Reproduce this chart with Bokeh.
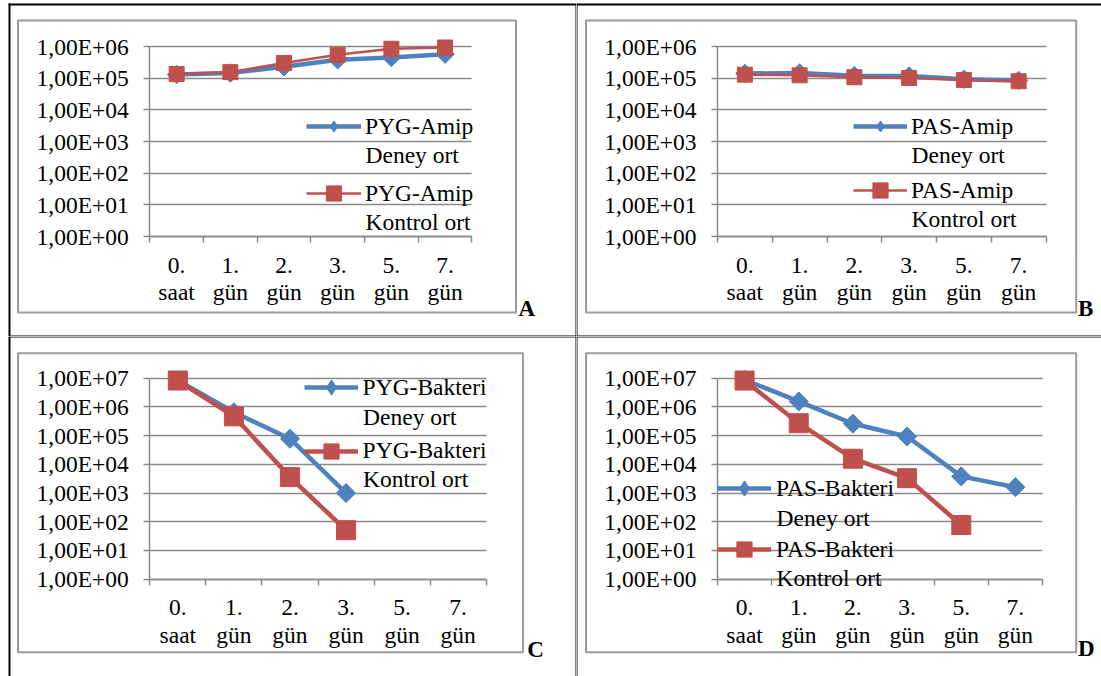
import math
from bokeh.plotting import figure
from bokeh.models import Range1d, FixedTicker, BoxAnnotation, Label, Legend, LegendItem, Grid
from bokeh.layouts import column, row
from bokeh.embed import file_html
from bokeh.resources import INLINE

# ---------------- data ----------------
categories = ["0. saat", "1. gün", "2. gün", "3. gün", "5. gün", "7. gün"]
x_tick_labels = ["0.\nsaat", "1.\ngün", "2.\ngün", "3.\ngün", "5.\ngün", "7.\ngün"]
y_tick_values_6 = [1.0, 1e1, 1e2, 1e3, 1e4, 1e5, 1e6]
y_tick_labels_6 = ["1,00E+00", "1,00E+01", "1,00E+02", "1,00E+03", "1,00E+04", "1,00E+05", "1,00E+06"]
y_tick_values_7 = [1.0, 1e1, 1e2, 1e3, 1e4, 1e5, 1e6, 1e7]
y_tick_labels_7 = ["1,00E+00", "1,00E+01", "1,00E+02", "1,00E+03", "1,00E+04", "1,00E+05", "1,00E+06", "1,00E+07"]

pyg_amip_deney = [1.30e5, 1.45e5, 2.3e5, 3.8e5, 4.5e5, 5.7e5]
pyg_amip_kontrol = [1.35e5, 1.55e5, 3.0e5, 5.5e5, 8.5e5, 9.3e5]
pas_amip_deney = [1.40e5, 1.45e5, 1.2e5, 1.17e5, 9.2e4, 8.5e4]
pas_amip_kontrol = [1.29e5, 1.23e5, 1.07e5, 1.01e5, 8.8e4, 8.0e4]
pyg_bakteri_deney = [8.3e6, 6.5e5, 7.8e4, 1.0e3, None, None]
pyg_bakteri_kontrol = [8.3e6, 4.7e5, 3.6e3, 51, None, None]
pas_bakteri_deney = [8.8e6, 1.55e6, 2.6e5, 9.3e4, 3.8e3, 1.6e3]
pas_bakteri_kontrol = [8.3e6, 2.7e5, 1.57e4, 3.3e3, 77, None]

legend_names = {
    "A": ("PYG-Amip", "PYG-Amip"),
    "B": ("PAS-Amip", "PAS-Amip"),
    "C": ("PYG-Bakteri", "PYG-Bakteri"),
    "D": ("PAS-Bakteri", "PAS-Bakteri"),
}
second_lines = ("Deney ort", "Kontrol ort")

# ---------------- style ----------------
FONT = "Liberation Serif"
FS = "23.5px"
BLUE = "#4F81BD"
RED = "#C0504D"
GRID = "#8a8a8a"
FRAME = "#9c9c9c"

# geometry in each cell's own pixels (x from left, y from top)
panels = [
    dict(key="A", W=576, H=336, fl=149.3, fr=471.4, ft=46, fb=236, yv=y_tick_values_6, yl=y_tick_labels_6,
         deney=pyg_amip_deney, kontrol=pyg_amip_kontrol, lw_b=4.5, lw_r=2.5, ms_b=13, ms_r=15,
         frame=(17.5, 20, 515.5, 312), letter=(518, 308),
         leg=dict(gl=306, gw=55, so=4, rows=(126, 154, 193, 221), gh_b=28, gh_r=38),
         borders=[(8, 3, 576, 5), (8, 3, 10, 336), (575, 3, 576, 336), (8, 335, 576, 336)]),
    dict(key="B", W=525, H=336, fl=141, fr=469.5, ft=46, fb=236, yv=y_tick_values_6, yl=y_tick_labels_6,
         deney=pas_amip_deney, kontrol=pas_amip_kontrol, lw_b=4.5, lw_r=2.5, ms_b=13, ms_r=15,
         frame=(9.5, 20, 499.7, 312), letter=(501.6, 307.5),
         leg=dict(gl=277, gw=54, so=4, rows=(126, 154, 190, 218), gh_b=28, gh_r=38),
         borders=[(0, 3, 525, 5), (0, 3, 1, 336), (0, 335, 525, 336)]),
    dict(key="C", W=576, H=340, fl=149.3, fr=485.7, ft=41.7, fb=242.7, yv=y_tick_values_7, yl=y_tick_labels_7,
         deney=pyg_bakteri_deney, kontrol=pyg_bakteri_kontrol, lw_b=4.5, lw_r=4.5, ms_b=13.5, ms_r=19,
         frame=(17.5, 16.7, 522.5, 315.7), letter=(526.7, 312.7),
         leg=dict(gl=303.6, gw=54, so=5, rows=(51.3, 80, 114.7, 142.3), gh_b=38, gh_r=38),
         borders=[(8, 0, 576, 1), (8, 0, 10, 340), (575, 0, 576, 340)]),
    dict(key="D", W=525, H=340, fl=141, fr=466, ft=41.7, fb=242.7, yv=y_tick_values_7, yl=y_tick_labels_7,
         deney=pas_bakteri_deney, kontrol=pas_bakteri_kontrol, lw_b=4.5, lw_r=4.5, ms_b=13.5, ms_r=19,
         frame=(9.5, 16.7, 499.7, 315.7), letter=(501.6, 311.5),
         leg=dict(gl=141, gw=54, so=5, rows=(152.3, 181.3, 213.3, 241.3), gh_b=38, gh_r=38),
         borders=[(0, 0, 525, 1), (0, 0, 1, 340)]),
]

HAS_CROSS = "cross_bounds" in Grid.properties()


def make_panel(c):
    W, H, fl, fr, ft, fb = c["W"], c["H"], c["fl"], c["fr"], c["ft"], c["fb"]
    ncat = len(categories)
    nd = len(c["yv"]) - 1
    cat_w = (fr - fl) / ncat
    dec_px = (fb - ft) / nd
    # the frame covers the whole cell; plot area is placed through the ranges
    xr = Range1d(-fl / cat_w, (W - fl) / cat_w)
    yr = Range1d(10 ** (-(H - fb) / dec_px), 10 ** (nd + ft / dec_px))
    p = figure(width=W, height=H, x_range=xr, y_range=yr, y_axis_type="log",
               output_backend="svg", toolbar_location=None,
               min_border_left=0, min_border_right=0, min_border_top=0, min_border_bottom=0)
    p.outline_line_color = None
    p.background_fill_color = "white"
    p.border_fill_color = "white"

    def sy(y):
        return H - y

    # y axis (drawn at x = 0 of the category scale)
    yt = FixedTicker(ticks=c["yv"], minor_ticks=[])
    p.yaxis.fixed_location = 0
    p.yaxis.bounds = (c["yv"][0], c["yv"][-1])
    p.yaxis.ticker = yt
    p.yaxis.major_label_overrides = dict(zip(c["yv"], c["yl"]))
    p.yaxis.axis_line_color = GRID
    p.yaxis.axis_line_width = 1.5
    p.yaxis.major_tick_line_color = GRID
    p.yaxis.major_tick_line_width = 1.5
    p.yaxis.major_tick_out = 6
    p.yaxis.major_tick_in = 0
    p.yaxis.minor_tick_line_color = None
    p.yaxis.major_label_standoff = 15
    p.yaxis.major_label_text_font = FONT
    p.yaxis.major_label_text_font_size = FS
    p.yaxis.major_label_text_color = "black"

    # horizontal grid lines, only across the plot area
    if HAS_CROSS:
        p.ygrid.ticker = yt
        p.ygrid.bounds = (c["yv"][0] * 0.9, c["yv"][-1] * 1.1)
        p.ygrid.cross_bounds = (0, ncat)
        p.ygrid.grid_line_color = GRID
        p.ygrid.grid_line_width = 1.5
    else:
        p.ygrid.visible = False
        p.segment(x0=[0] * len(c["yv"]), x1=[ncat] * len(c["yv"]), y0=c["yv"], y1=c["yv"],
                  line_color=GRID, line_width=1.5)
    p.xgrid.visible = False

    # x axis: labels at category centres, ticks at category boundaries
    centers = [i + 0.5 for i in range(ncat)]
    xt = FixedTicker(ticks=centers, minor_ticks=list(range(ncat + 1)))
    p.xaxis.fixed_location = c["yv"][0]
    p.xaxis.bounds = (0, ncat)
    p.xaxis.ticker = xt
    p.xaxis.major_label_overrides = dict(zip(centers, x_tick_labels))
    p.xaxis.axis_line_color = GRID
    p.xaxis.axis_line_width = 1.5
    p.xaxis.major_tick_line_color = None
    p.xaxis.major_tick_out = 0
    p.xaxis.major_tick_in = 0
    p.xaxis.minor_tick_line_color = GRID
    p.xaxis.minor_tick_line_width = 1.5
    p.xaxis.minor_tick_out = 6
    p.xaxis.minor_tick_in = 0
    p.xaxis.major_label_standoff = 9
    p.xaxis.major_label_text_font = FONT
    p.xaxis.major_label_text_font_size = FS
    p.xaxis.major_label_text_color = "black"
    p.xaxis.major_label_text_line_height = 1.05

    # data
    for vals, color, lw, ms, ang in (
        (c["deney"], BLUE, c["lw_b"], c["ms_b"], math.pi / 4),
        (c["kontrol"], RED, c["lw_r"], c["ms_r"], 0.0),
    ):
        xs = [centers[i] for i, v in enumerate(vals) if v is not None]
        ys = [v for v in vals if v is not None]
        p.line(xs, ys, line_color=color, line_width=lw, line_join="round")
        p.scatter(xs, ys, marker="square", size=ms, angle=ang, fill_color=color, line_color=color)

    # legends (one per series) + their second text line
    lg = c["leg"]
    names = legend_names[c["key"]]
    far_x, far_y = [-1000.0], [1e-30]  # off-canvas point, only for the legend glyph
    for k, (color, lw, mk, gh) in enumerate(((BLUE, c["lw_b"], "diamond", lg["gh_b"]),
                                             (RED, c["lw_r"], "square", lg["gh_r"]))):
        row_c = lg["rows"][2 * k]
        lr = p.line(x=far_x, y=far_y, line_color=color, line_width=lw)
        sr = p.scatter(x=far_x, y=far_y, marker=mk, fill_color=color, line_color=color)
        leg = Legend(items=[LegendItem(label=names[k], renderers=[lr, sr])],
                     location=(lg["gl"], sy(row_c + gh / 2)),
                     glyph_width=int(lg["gw"]), glyph_height=int(gh), label_height=int(gh),
                     label_standoff=int(lg["so"]), padding=0, margin=0, spacing=0,
                     border_line_alpha=0, background_fill_alpha=0,
                     label_text_font=FONT, label_text_font_size=FS, label_text_color="black")
        p.add_layout(leg)
        p.add_layout(Label(x=lg["gl"] + lg["gw"] + lg["so"], y=sy(lg["rows"][2 * k + 1]),
                           x_units="screen", y_units="screen", text=second_lines[k],
                           text_font=FONT, text_font_size=FS, text_color="black",
                           text_baseline="middle", text_align="left"))

    # chart area frame (grey)
    x0, y0, x1, y1 = c["frame"]
    p.add_layout(BoxAnnotation(left=x0, right=x1, top=sy(y0), bottom=sy(y1),
                               left_units="screen", right_units="screen",
                               top_units="screen", bottom_units="screen",
                               fill_alpha=0, line_color=FRAME, line_width=2, line_alpha=1))
    # table borders (black)
    for (bx0, by0, bx1, by1) in c["borders"]:
        p.add_layout(BoxAnnotation(left=bx0, right=bx1, top=sy(by0), bottom=sy(by1),
                                   left_units="screen", right_units="screen",
                                   top_units="screen", bottom_units="screen",
                                   fill_color="black", fill_alpha=1, line_color=None))
    # panel letter
    lx, ly = c["letter"]
    p.add_layout(Label(x=lx, y=sy(ly), x_units="screen", y_units="screen", text=c["key"],
                       text_font=FONT, text_font_size="23px", text_font_style="bold",
                       text_color="black", text_baseline="alphabetic", text_align="left"))
    return p


figs = [make_panel(c) for c in panels]
layout = column(row(figs[0], figs[1]), row(figs[2], figs[3]))
open("out.html", "w").write(file_html(layout, INLINE))
